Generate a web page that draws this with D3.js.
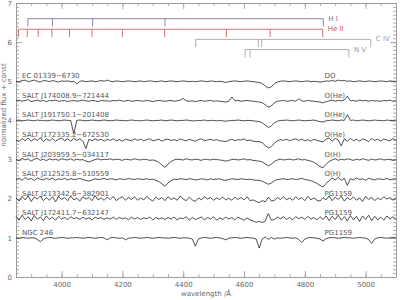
<!DOCTYPE html>
<html>
<head>
<meta charset="utf-8">
<script src="https://cdn.jsdelivr.net/npm/d3@7"></script>
<style>
  body { margin: 0; background: #fff; }
  svg text { font-family: "DejaVu Sans", sans-serif; }
</style>
</head>
<body>
<div id="vis"></div>
<script>
const W = 400;
const H = 300;

// sampling grid of the spectra (Angstrom)
const wavelengths = d3.range(3850, 5101, 10);

const starNames = [
  'EC 01339\u22126730',
  'SALT J174008.9\u2212721444',
  'SALT J191750.1\u2212201408',
  'SALT J172335.2\u2212672530',
  'SALT J203959.5\u2212034117',
  'SALT J212525.8\u2212510559',
  'SALT J213342.6\u2212382901',
  'SALT J172411.7\u2212632147',
  'NGC 246'
];
const starClasses = ['DO', 'O(He)', 'O(He)', 'O(He)', 'O(H)', 'O(H)', 'PG1159', 'PG1159', 'PG1159'];
// constant added to each normalized spectrum
const offsets = [4, 3.5, 3, 2.5, 2, 1.5, 1, 0.5, 0];

// normalized flux, one value per grid point
const fluxEC01339 = [
  1.00, 0.98, 1.02, 1.03, 0.99, 1.01, 1.03, 1.00, 0.98, 1.02,
  1.01, 0.99, 1.02, 1.00, 0.98, 1.01, 1.00, 1.01, 0.99, 1.00,
  0.93, 1.00, 1.01, 0.99, 1.00, 1.01, 0.99, 1.00, 1.02, 1.00,
  1.03, 1.00, 0.99, 1.01, 1.00, 0.99, 1.00, 1.01, 1.00, 0.99,
  1.00, 1.01, 0.99, 1.00, 1.01, 1.00, 0.99, 1.00, 1.01, 0.99,
  1.00, 1.01, 1.00, 0.99, 1.00, 1.01, 1.00, 0.99, 1.00, 0.99,
  1.00, 1.01, 1.00, 0.99, 1.01, 1.00, 0.99, 1.00, 0.99, 0.97,
  0.99, 1.00, 1.01, 1.00, 0.99, 1.00, 1.01, 1.00, 0.99, 0.98,
  0.97, 0.94, 0.88, 0.83, 0.86, 0.94, 0.98, 1.00, 1.01, 1.00,
  0.99, 1.00, 1.01, 1.00, 0.99, 1.00, 1.01, 0.99, 1.00, 0.99,
  0.98, 0.99, 1.01, 1.00, 1.02, 1.00, 1.03, 1.01, 1.02, 1.00,
  1.01, 0.99, 1.00, 1.01, 1.00, 0.99, 1.01, 1.00, 0.99, 1.00,
  1.01, 1.00, 0.99, 1.01, 1.00, 1.00
];
const fluxJ174008 = [
  1.00, 1.02, 0.99, 1.01, 1.03, 0.98, 1.00, 1.02, 0.99, 1.01,
  0.98, 1.01, 1.00, 1.02, 0.99, 1.00, 1.01, 0.98, 1.00, 1.01,
  0.99, 1.00, 1.02, 1.00, 0.99, 1.01, 1.00, 0.98, 1.01, 1.00,
  1.00, 0.99, 1.01, 1.00, 1.02, 0.99, 1.00, 1.01, 0.99, 1.00,
  1.01, 1.00, 0.99, 1.01, 1.00, 0.98, 1.00, 1.01, 1.00, 0.99,
  1.00, 1.01, 0.99, 1.00, 1.02, 1.06, 1.00, 0.99, 1.00, 0.98,
  1.00, 1.01, 0.99, 1.00, 1.01, 0.99, 1.00, 0.99, 0.98, 0.97,
  0.99, 1.10, 1.00, 1.01, 0.99, 1.00, 1.01, 1.00, 0.99, 0.98,
  0.97, 0.95, 0.90, 0.84, 0.87, 0.95, 0.99, 1.00, 1.01, 0.99,
  1.00, 1.01, 0.99, 1.05, 1.00, 0.99, 1.01, 1.00, 0.99, 0.98,
  0.97, 0.95, 0.98, 1.00, 1.02, 0.99, 1.01, 1.00, 1.02, 1.12,
  1.00, 1.01, 0.99, 1.02, 1.00, 1.01, 0.99, 1.01, 1.00, 1.00,
  0.99, 1.01, 1.00, 1.02, 0.99, 1.00
];
const fluxJ191750 = [
  1.00, 1.01, 0.99, 1.00, 1.01, 1.00, 0.99, 1.01, 1.00, 1.00,
  0.99, 1.00, 1.01, 1.00, 0.99, 1.00, 1.01, 1.00, 1.00, 0.66,
  1.00, 1.01, 1.00, 0.99, 1.00, 1.01, 1.00, 0.99, 1.00, 1.01,
  1.00, 0.99, 1.00, 1.01, 1.00, 1.00, 0.99, 1.00, 1.01, 1.00,
  1.00, 0.99, 1.00, 1.01, 1.00, 0.99, 1.00, 1.00, 1.01, 0.99,
  1.00, 1.01, 1.00, 0.99, 1.00, 1.00, 1.01, 1.00, 0.99, 0.99,
  1.00, 1.00, 1.01, 0.99, 1.00, 1.00, 0.99, 1.00, 0.99, 0.98,
  0.99, 1.00, 1.00, 1.01, 1.00, 0.99, 1.00, 1.00, 0.99, 0.98,
  0.97, 0.94, 0.88, 0.82, 0.86, 0.94, 0.98, 1.00, 1.00, 1.01,
  1.00, 0.99, 1.00, 1.01, 1.00, 0.99, 1.00, 1.00, 1.01, 0.99,
  0.97, 0.96, 0.99, 1.00, 1.01, 1.00, 0.99, 1.01, 1.00, 1.15,
  1.00, 1.01, 0.99, 1.00, 1.01, 1.00, 0.99, 1.00, 1.01, 1.00,
  1.00, 0.99, 1.01, 1.00, 1.00, 1.01
];
const fluxJ172335 = [
  1.00, 0.96, 1.04, 0.98, 1.05, 0.97, 1.03, 0.99, 1.06, 0.96,
  1.03, 0.98, 1.04, 0.97, 1.02, 1.05, 0.98, 1.03, 0.97, 1.04,
  0.99, 1.03, 0.97, 0.78, 1.02, 0.98, 1.03, 0.99, 1.02, 0.97,
  1.02, 0.99, 1.03, 0.98, 1.01, 0.97, 1.02, 1.00, 0.98, 1.03,
  0.99, 1.02, 0.98, 1.01, 1.03, 0.98, 1.00, 1.02, 0.97, 1.01,
  1.02, 0.99, 1.01, 0.98, 1.03, 1.00, 0.98, 1.02, 0.99, 0.97,
  1.01, 1.03, 0.98, 1.00, 1.02, 0.99, 1.01, 0.98, 0.97, 0.96,
  0.99, 1.02, 0.98, 1.01, 1.00, 1.03, 0.98, 1.00, 0.97, 0.96,
  0.96, 0.93, 0.86, 0.80, 0.83, 0.92, 0.98, 1.01, 0.99, 1.02,
  0.98, 1.01, 1.03, 0.99, 1.02, 0.98, 1.01, 0.97, 1.02, 0.99,
  0.97, 0.95, 1.02, 1.05, 0.97, 1.04, 1.00, 0.85, 1.03, 0.97,
  1.04, 0.98, 1.02, 0.97, 1.03, 1.00, 0.96, 1.04, 0.99, 1.02,
  0.97, 1.03, 1.00, 0.98, 1.04, 0.99
];
const fluxJ203959 = [
  1.00, 0.97, 1.03, 0.99, 1.02, 0.96, 1.01, 1.03, 0.98, 1.01,
  0.97, 1.02, 0.99, 1.01, 0.98, 1.02, 1.00, 0.99, 1.02, 0.98,
  1.01, 0.99, 1.00, 0.96, 0.94, 0.97, 1.00, 1.02, 0.99, 1.01,
  1.00, 1.02, 0.99, 1.01, 1.00, 0.98, 1.01, 1.00, 0.99, 1.02,
  1.00, 0.99, 1.01, 1.00, 0.98, 0.99, 0.97, 0.93, 0.86, 0.80,
  0.88, 0.95, 0.99, 1.01, 1.00, 0.99, 1.02, 1.00, 0.99, 1.01,
  1.00, 0.98, 1.01, 1.00, 0.99, 1.01, 1.00, 0.99, 0.98, 0.96,
  0.98, 1.00, 1.01, 0.99, 1.00, 1.02, 0.99, 1.00, 0.98, 0.97,
  0.96, 0.94, 0.89, 0.84, 0.88, 0.95, 0.99, 1.01, 0.99, 1.00,
  1.01, 0.99, 1.00, 1.02, 0.99, 1.00, 0.98, 0.96, 0.93, 0.88,
  0.82, 0.79, 0.88, 0.95, 0.99, 1.02, 0.98, 1.01, 0.99, 1.02,
  1.00, 0.98, 1.01, 0.99, 1.02, 1.00, 0.98, 1.01, 0.99, 1.00,
  1.02, 0.99, 1.00, 1.01, 0.98, 1.00
];
const fluxJ212525 = [
  0.98, 1.03, 0.97, 1.04, 0.99, 1.02, 0.96, 1.03, 1.00, 0.98,
  1.02, 0.99, 1.03, 0.97, 1.01, 0.99, 1.02, 0.98, 1.01, 0.99,
  1.00, 1.02, 0.99, 0.97, 0.95, 0.98, 1.01, 0.99, 1.00, 1.02,
  0.99, 1.01, 1.00, 0.98, 1.01, 1.00, 0.99, 1.02, 1.00, 0.99,
  1.01, 1.00, 0.99, 1.01, 0.99, 1.00, 0.97, 0.94, 0.88, 0.82,
  0.90, 0.96, 1.00, 0.99, 1.01, 1.00, 0.99, 1.01, 1.00, 0.98,
  0.99, 1.01, 1.00, 0.98, 1.01, 0.99, 1.00, 1.01, 0.98, 0.97,
  0.99, 1.01, 1.00, 0.99, 1.01, 1.00, 0.99, 1.00, 0.98, 0.97,
  0.97, 0.95, 0.91, 0.87, 0.90, 0.96, 0.99, 1.00, 1.01, 0.99,
  1.00, 1.01, 0.99, 1.00, 1.02, 0.99, 0.98, 0.96, 0.93, 0.89,
  0.84, 0.80, 0.89, 0.96, 1.03, 0.98, 1.04, 0.97, 1.02, 0.84,
  1.01, 0.98, 1.03, 0.99, 1.01, 0.97, 1.02, 1.00, 0.98, 1.01,
  1.00, 0.99, 1.02, 0.98, 1.00, 1.01
];
const fluxJ213342 = [
  1.02, 0.94, 1.06, 0.97, 1.08, 0.93, 1.04, 0.99, 1.07, 0.95,
  1.03, 0.96, 1.05, 0.92, 1.06, 0.98, 1.03, 0.95, 1.07, 0.97,
  1.01, 0.94, 1.05, 0.99, 1.03, 0.95, 1.08, 0.97, 1.02, 0.96,
  1.04, 0.98, 1.06, 0.95, 1.01, 1.05, 0.96, 1.03, 0.98, 1.05,
  0.96, 1.02, 0.97, 1.06, 0.99, 0.94, 1.04, 0.98, 1.03, 0.95,
  1.05, 0.98, 1.02, 0.96, 1.07, 0.99, 0.95, 1.04, 0.97, 0.93,
  1.02, 0.97, 1.05, 0.99, 1.03, 0.96, 1.02, 0.98, 1.04, 0.97,
  1.01, 0.96, 1.04, 0.98, 1.03, 0.97, 1.05, 0.95, 0.97, 0.93,
  0.90, 0.95, 0.92, 1.04, 0.94, 0.96, 1.03, 0.98, 1.05, 0.97,
  1.02, 0.96, 1.05, 0.98, 1.03, 0.95, 1.06, 0.97, 1.02, 0.96,
  0.94, 1.03, 0.97, 1.07, 0.95, 1.04, 0.98, 1.06, 0.94, 1.03,
  0.97, 1.05, 0.96, 1.02, 0.93, 1.06, 0.98, 1.04, 0.95, 1.02,
  0.97, 1.05, 0.99, 1.03, 0.96, 1.02
];
const fluxJ172411 = [
  1.05, 0.95, 1.08, 0.97, 1.04, 0.93, 1.07, 0.98, 1.03, 0.94,
  1.06, 0.97, 1.03, 0.95, 1.05, 0.98, 1.02, 0.96, 1.04, 0.99,
  1.02, 0.97, 1.03, 0.98, 1.01, 0.96, 1.03, 0.99, 1.02, 0.97,
  1.01, 0.98, 1.03, 0.97, 1.02, 0.99, 1.01, 0.96, 1.03, 0.98,
  1.02, 0.97, 1.01, 0.99, 1.03, 0.96, 1.02, 0.98, 1.01, 0.97,
  1.02, 0.98, 1.03, 0.96, 1.01, 0.99, 1.04, 0.95, 1.02, 0.97,
  1.00, 1.03, 0.96, 1.02, 0.98, 1.04, 0.95, 1.01, 0.97, 1.03,
  0.98, 1.02, 0.96, 1.03, 0.99, 0.95, 1.01, 0.96, 0.93, 0.90,
  0.92, 0.89, 0.93, 1.12, 0.95, 0.97, 1.03, 0.99, 1.04, 0.97,
  1.02, 0.96, 1.04, 0.99, 1.03, 0.97, 1.05, 0.98, 1.02, 0.96,
  1.04, 0.97, 1.06, 0.94, 1.05, 0.97, 1.08, 0.95, 1.04, 0.93,
  1.07, 0.96, 1.05, 0.92, 1.06, 0.97, 1.08, 0.94, 1.05, 0.96,
  1.03, 0.95, 1.06, 0.98, 1.04, 0.97
];
const fluxNGC246 = [
  1.00, 0.99, 1.01, 1.00, 0.99, 1.00, 1.00, 0.96, 0.90, 0.97,
  1.00, 1.01, 1.00, 0.99, 1.00, 1.01, 1.00, 0.99, 1.00, 1.00,
  1.01, 1.00, 0.99, 1.00, 1.01, 1.00, 0.99, 1.00, 1.01, 1.00,
  0.95, 1.00, 1.01, 1.00, 0.99, 1.00, 0.95, 0.99, 1.00, 1.01,
  1.00, 0.99, 1.00, 1.01, 1.00, 0.99, 1.00, 1.01, 1.00, 1.00,
  0.99, 1.00, 1.01, 1.00, 0.99, 1.00, 1.00, 0.99, 0.97, 0.79,
  0.97, 1.00, 1.01, 1.00, 0.99, 1.00, 1.01, 1.00, 0.98, 0.95,
  0.99, 1.00, 1.01, 1.00, 0.99, 1.00, 1.01, 1.00, 0.99, 0.97,
  0.74, 0.97, 1.02, 0.96, 1.01, 0.97, 1.00, 0.99, 1.00, 1.01,
  1.00, 0.99, 1.00, 0.96, 0.88, 0.97, 1.00, 1.01, 1.00, 0.99,
  0.97, 0.92, 0.98, 1.00, 1.01, 1.00, 0.99, 1.00, 1.01, 1.00,
  1.00, 0.99, 1.00, 1.01, 1.00, 0.99, 0.96, 0.86, 0.97, 1.00,
  1.01, 1.00, 0.99, 1.00, 1.01, 1.00
];
const fluxes = [fluxEC01339, fluxJ174008, fluxJ191750, fluxJ172335, fluxJ203959,
  fluxJ212525, fluxJ213342, fluxJ172411, fluxNGC246];

// line identifications (Angstrom)
const lineIonNames = ['H I', 'He II', 'C IV', 'N V'];
const lineWavelengths = [
  [3889, 3970, 4102, 4340, 4861],
  [3858, 3887, 3923, 3968, 4026, 4100, 4200, 4339, 4542, 4686, 4859],
  [4441, 4647, 4658, 5017],
  [4604, 4620, 4945]
];
const lineLevels = [6.6, 6.33, 6.07, 5.81];
const lineColors = ['#6a6d9c', '#c8524f', '#9a9a9a', '#9a9a9a'];

const xTicks = [4000, 4200, 4400, 4600, 4800, 5000];
const yTicks = [0, 1, 2, 3, 4, 5, 6, 7];

const svg = d3.select('#vis').append('svg').attr('width', W).attr('height', H);

const x = d3.scaleLinear().domain([3850, 5100]).range([16, 396]);
const y = d3.scaleLinear().domain([0, 7]).range([277, 3]);

const axisColor = '#999';
const textColor = '#666';

// axes, IDL style with inward ticks on all sides
const minorX = d3.range(3850, 5101, 50);
const minorY = d3.range(0, 7.001, 0.1);

function styleAxis(g) {
  g.selectAll('path,line').attr('stroke', axisColor).attr('stroke-width', 0.8);
  g.selectAll('text').attr('fill', textColor).attr('font-size', 7);
}

svg.append('g').attr('transform', 'translate(0,277)')
  .call(d3.axisBottom(x).tickValues(minorX).tickSize(-3).tickFormat('').tickSizeOuter(0)).call(styleAxis);
svg.append('g').attr('transform', 'translate(0,277)')
  .call(d3.axisBottom(x).tickValues(xTicks).tickSize(-6).tickPadding(5).tickFormat(d3.format('d')).tickSizeOuter(0))
  .call(styleAxis);
svg.append('g').attr('transform', 'translate(0,3)')
  .call(d3.axisTop(x).tickValues(minorX).tickSize(-3).tickFormat('').tickSizeOuter(0)).call(styleAxis);
svg.append('g').attr('transform', 'translate(0,3)')
  .call(d3.axisTop(x).tickValues(xTicks).tickSize(-6).tickFormat('').tickSizeOuter(0)).call(styleAxis);

svg.append('g').attr('transform', 'translate(16,0)')
  .call(d3.axisLeft(y).tickValues(minorY).tickSize(-3).tickFormat('').tickSizeOuter(0)).call(styleAxis);
svg.append('g').attr('transform', 'translate(16,0)')
  .call(d3.axisLeft(y).tickValues(yTicks).tickSize(-6).tickPadding(4).tickFormat(d3.format('d')).tickSizeOuter(0))
  .call(styleAxis);
svg.append('g').attr('transform', 'translate(396,0)')
  .call(d3.axisRight(y).tickValues(minorY).tickSize(-3).tickFormat('').tickSizeOuter(0)).call(styleAxis);
svg.append('g').attr('transform', 'translate(396,0)')
  .call(d3.axisRight(y).tickValues(yTicks).tickSize(-6).tickFormat('').tickSizeOuter(0)).call(styleAxis);

// axis titles
svg.append('text')
  .attr('x', (16 + 396) / 2).attr('y', 296)
  .attr('text-anchor', 'middle').attr('font-size', 7).attr('fill', textColor)
  .text('wavelength /\u00c5');
svg.append('text')
  .attr('transform', 'translate(6,105) rotate(-90)')
  .attr('text-anchor', 'middle').attr('font-size', 7).attr('fill', textColor)
  .text('normalized flux + const');

// spectra
const line = d3.line()
  .x((d) => x(d[0]))
  .y((d) => y(d[1]));

fluxes.forEach((flux, i) => {
  const pts = wavelengths.map((w, j) => [w, flux[j] + offsets[i]]);
  svg.append('path')
    .datum(pts)
    .attr('fill', 'none')
    .attr('stroke', '#222')
    .attr('stroke-width', 0.8)
    .attr('stroke-linejoin', 'round')
    .attr('d', line);

  svg.append('text')
    .attr('x', x(3870)).attr('y', y(offsets[i] + 1) - 3)
    .attr('font-size', 7).attr('fill', '#555')
    .text(starNames[i]);
  svg.append('text')
    .attr('x', x(4865)).attr('y', y(offsets[i] + 1) - 3)
    .attr('font-size', 7).attr('fill', '#555')
    .text(starClasses[i]);
});

// line identification combs
lineWavelengths.forEach((lams, k) => {
  const lvl = lineLevels[k];
  const g = svg.append('g').attr('stroke', lineColors[k]).attr('stroke-width', 0.8);
  g.append('line')
    .attr('x1', x(d3.min(lams))).attr('x2', x(d3.max(lams)))
    .attr('y1', y(lvl)).attr('y2', y(lvl));
  g.selectAll('line.tick').data(lams).join('line')
    .attr('class', 'tick')
    .attr('x1', (d) => x(d)).attr('x2', (d) => x(d))
    .attr('y1', y(lvl)).attr('y2', y(lvl - 0.2));
  svg.append('text')
    .attr('x', x(d3.max(lams)) + 5).attr('y', y(lvl) + 2)
    .attr('font-size', 7).attr('fill', lineColors[k])
    .text(lineIonNames[k]);
});
</script>
</body>
</html>
